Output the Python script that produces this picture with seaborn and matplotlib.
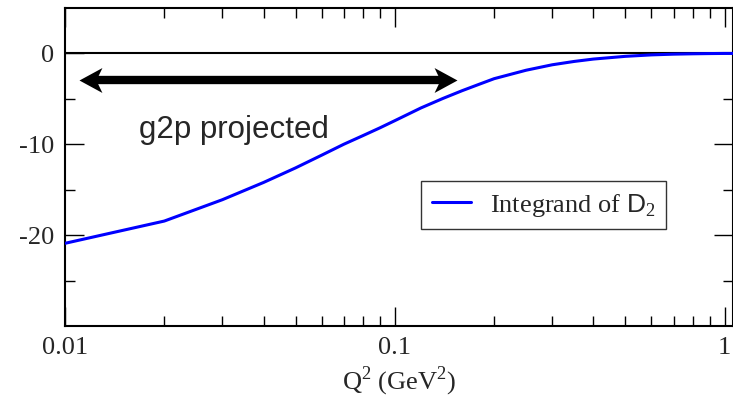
import numpy as np
import pandas as pd
import seaborn as sns
import matplotlib
matplotlib.use('Agg')
import matplotlib.pyplot as plt
from matplotlib.path import Path
from matplotlib.ticker import LogLocator, FixedLocator, FixedFormatter, NullFormatter

# curve
q2 = [0.01, 0.02, 0.03, 0.04, 0.05, 0.06, 0.07, 0.08, 0.09, 0.10,
      0.12, 0.14, 0.16, 0.18, 0.20, 0.25, 0.30, 0.35, 0.40, 0.50,
      0.60, 0.70, 0.80, 0.90, 1.00, 1.06]
integrand = [-20.9, -18.45, -16.1, -14.2, -12.6, -11.2, -10.0, -9.05, -8.2, -7.4,
             -6.0, -4.95, -4.1, -3.4, -2.78, -1.85, -1.25, -0.88, -0.62, -0.32,
             -0.16, -0.08, -0.04, -0.015, 0.0, 0.0]

# projected range of g2p (arrow tips)
arrow_x = [0.011, 0.154]
arrow_y = -2.9

df = pd.DataFrame({'Q2': q2, 'val': integrand})

sns.set_style('ticks')
plt.rcParams['font.family'] = ['Liberation Serif', 'DejaVu Serif']
plt.rcParams['mathtext.fontset'] = 'custom'
plt.rcParams['mathtext.rm'] = 'Liberation Serif'
plt.rcParams['mathtext.sf'] = 'Liberation Sans'
plt.rcParams['axes.unicode_minus'] = False

fig = plt.figure(figsize=(7.33, 3.99), dpi=100)
ax = fig.add_axes([65 / 733, 73 / 399, 668 / 733, 318 / 399])

ax.axhline(0, color='black', lw=1.5, zorder=1)
sns.lineplot(data=df, x='Q2', y='val', ax=ax, color='#0000ff', lw=2.2,
             label=r'Integrand of $\mathsf{D}_2$', zorder=3)

# double arrow: thick shaft + stealth heads
head = Path([(0, 0), (23, 12.5), (17, 0), (23, -12.5), (0, 0)],
            [Path.MOVETO, Path.LINETO, Path.LINETO, Path.LINETO, Path.CLOSEPOLY])
head_r = Path(-head.vertices, head.codes)
ax.plot([arrow_x[0] * 1.11, arrow_x[1] / 1.11], [arrow_y, arrow_y], color='black',
        lw=6, solid_capstyle='butt', zorder=4)
ax.plot([arrow_x[0]], [arrow_y], marker=head, ms=33, color='black', mew=0, zorder=4)
ax.plot([arrow_x[1]], [arrow_y], marker=head_r, ms=33, color='black', mew=0, zorder=4)

ax.text(0.0325, -8.4, 'g2p projected', family='Liberation Sans', fontsize=22.5,
        ha='center', va='center')

ax.set_xscale('log')
ax.set_xlim(0.01, 1.06)
ax.set_ylim(-30, 5)
ax.xaxis.set_major_locator(FixedLocator([0.01, 0.1, 1]))
ax.xaxis.set_major_formatter(FixedFormatter(['0.01', '0.1', '1']))
ax.xaxis.set_minor_locator(LogLocator(base=10, subs=np.arange(2, 10)))
ax.xaxis.set_minor_formatter(NullFormatter())
ax.yaxis.set_major_locator(FixedLocator([-20, -10, 0]))
ax.yaxis.set_minor_locator(FixedLocator([-25, -15, -5]))

ax.tick_params(which='both', direction='in', top=True, right=True,
               labelsize=19, width=1.0, color='black', pad=8)
ax.tick_params(which='major', length=14)
ax.tick_params(which='minor', length=7)
for s in ax.spines.values():
    s.set_linewidth(1.5)
    s.set_color('black')

ax.set_xlabel(r'Q$^2$ (GeV$^2$)', fontsize=19, labelpad=4)
ax.set_ylabel('')

leg = ax.legend(loc='upper left', bbox_to_anchor=(356 / 668, (326 - 181) / 318),
                fontsize=19, frameon=True, fancybox=False, handlelength=1.48,
                handletextpad=0.72, borderpad=0.4, borderaxespad=0)
leg.get_frame().set_edgecolor('black')
leg.get_frame().set_linewidth(1.0)

fig.savefig('out.png', dpi=100)
